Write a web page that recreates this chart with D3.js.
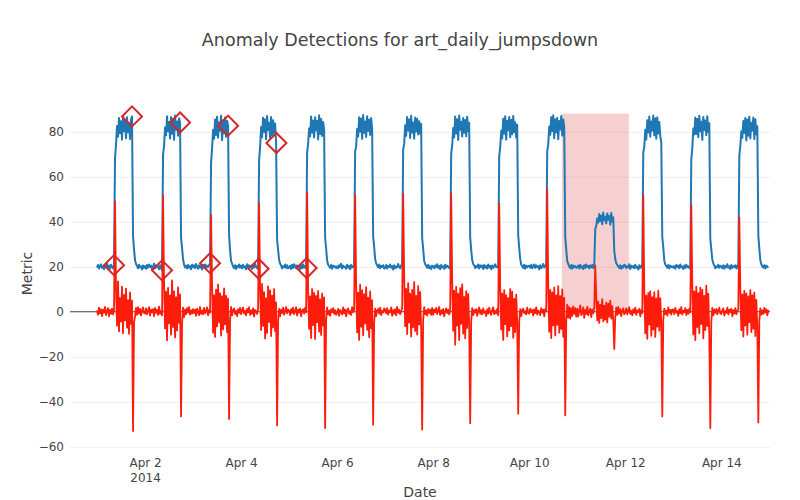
<!DOCTYPE html>
<html>
<head>
<meta charset="utf-8">
<script src="https://cdn.jsdelivr.net/npm/d3@7"></script>
<style>
  body { margin: 0; background: #fff; }
</style>
</head>
<body>
<svg id="chart" width="800" height="500"></svg>
<script>
// ---- data (30 minute samples) ----
const dayStarts = ["2014-04-01", "2014-04-02", "2014-04-03", "2014-04-04", "2014-04-05", "2014-04-06", "2014-04-07",
                   "2014-04-08", "2014-04-09", "2014-04-10", "2014-04-11", "2014-04-12", "2014-04-13", "2014-04-14"];
const stepMinutes = 30;

const metricApr01 = [19.6, 20.8, 19.2, 20.4, 21.1, 19.5, 20.2, 18.9, 20.7, 19.8, 21.3, 19.4, 20.5, 19.1, 20.9, 20.0, 19.3, 20.7, 68.5, 74.2, 82.6, 77.8, 86.1, 79.4, 84.7, 76.5, 87.0, 80.3, 85.2, 77.1, 86.4, 79.8, 83.9, 76.8, 85.6, 86.8, 33.5, 27.8, 22.9, 21.2, 20.4, 19.3, 20.9, 19.7, 20.2, 18.8, 20.6, 19.5];
const metricApr02 = [20.3, 19.1, 20.8, 19.6, 21.0, 19.9, 20.5, 18.7, 20.1, 21.4, 19.3, 20.6, 19.8, 20.2, 18.9, 20.7, 19.5, 18.4, 69.8, 73.6, 81.9, 78.4, 86.9, 80.2, 84.3, 77.0, 86.5, 79.1, 85.8, 76.4, 87.2, 81.0, 84.6, 78.2, 86.0, 84.1, 32.8, 28.4, 23.3, 21.0, 19.7, 20.5, 19.2, 20.8, 19.6, 20.3, 18.9, 20.9];
const metricApr03 = [19.8, 20.6, 19.4, 21.2, 20.0, 19.1, 20.7, 19.6, 20.3, 18.8, 20.9, 19.7, 21.0, 19.4, 20.5, 19.9, 20.8, 21.6, 66.3, 72.5, 80.8, 76.9, 85.4, 78.6, 86.7, 77.4, 84.2, 80.5, 87.1, 76.2, 85.0, 79.3, 86.3, 77.8, 84.9, 82.7, 34.1, 27.2, 22.6, 21.4, 20.1, 19.4, 20.7, 19.0, 20.4, 19.8, 21.0, 19.6];
const metricApr04 = [20.5, 19.3, 20.9, 19.7, 20.2, 18.9, 21.1, 19.5, 20.6, 19.9, 20.3, 19.0, 20.8, 19.6, 21.2, 20.1, 19.4, 19.1, 67.4, 73.0, 82.1, 77.6, 86.2, 79.9, 85.5, 76.7, 87.0, 80.8, 84.0, 77.3, 86.6, 78.5, 85.1, 79.4, 83.7, 75.0, 31.9, 27.5, 23.1, 21.3, 20.6, 19.2, 20.3, 19.8, 21.0, 19.5, 20.7, 19.3];
const metricApr05 = [19.7, 20.4, 19.0, 20.9, 19.5, 21.1, 20.2, 19.3, 20.6, 19.8, 20.0, 18.9, 20.7, 19.4, 21.0, 19.6, 20.3, 19.4, 70.6, 74.8, 81.5, 78.0, 86.8, 79.6, 85.0, 77.5, 86.4, 80.7, 84.8, 76.6, 87.3, 79.0, 85.7, 78.1, 84.3, 80.9, 33.0, 28.1, 22.8, 20.9, 20.3, 19.5, 20.8, 19.1, 20.5, 19.9, 20.2, 19.4];
const metricApr06 = [20.2, 19.4, 20.7, 19.9, 21.3, 19.2, 20.5, 19.8, 20.0, 19.1, 20.9, 19.6, 20.4, 18.9, 20.8, 19.7, 20.3, 19.8, 71.2, 73.5, 81.2, 77.9, 86.4, 80.0, 85.9, 76.8, 87.4, 79.5, 84.6, 77.7, 86.9, 80.4, 85.3, 78.6, 86.1, 81.3, 33.6, 28.9, 23.4, 21.5, 20.6, 19.7, 21.0, 19.3, 20.4, 19.9, 20.7, 19.2];
const metricApr07 = [19.5, 20.8, 19.2, 20.4, 19.9, 21.0, 19.6, 20.3, 18.8, 20.7, 19.4, 20.1, 19.7, 21.2, 20.0, 19.3, 20.6, 20.2, 72.0, 74.6, 82.9, 78.2, 86.6, 80.6, 85.4, 77.2, 87.1, 79.7, 84.1, 76.9, 86.3, 80.1, 85.8, 78.8, 84.7, 79.3, 83.5, 32.7, 27.9, 22.7, 21.1, 20.4, 19.6, 20.9, 19.4, 20.2, 19.0, 20.5];
const metricApr08 = [20.1, 19.3, 20.6, 19.8, 21.1, 19.5, 20.4, 18.9, 20.8, 19.7, 20.2, 19.1, 20.9, 19.6, 20.5, 20.0, 19.4, 19.9, 70.3, 73.8, 81.7, 77.5, 86.8, 79.2, 85.6, 76.3, 87.2, 80.9, 84.4, 77.9, 86.1, 79.6, 85.2, 78.0, 86.7, 80.2, 84.0, 33.2, 27.4, 23.0, 21.2, 20.7, 19.4, 20.3, 19.8, 21.0, 19.2, 20.6];
const metricApr09 = [19.9, 20.5, 19.0, 20.8, 19.6, 20.3, 19.2, 21.0, 19.7, 20.4, 18.9, 20.6, 19.5, 20.2, 21.1, 19.8, 20.1, 19.6, 69.1, 72.9, 80.4, 77.0, 85.8, 79.1, 86.9, 76.5, 84.9, 80.7, 86.5, 77.6, 85.3, 78.9, 87.0, 79.8, 84.2, 77.4, 83.1, 34.0, 28.3, 23.5, 21.0, 20.2, 19.5, 20.9, 19.1, 20.5, 19.8, 20.3];
const metricApr10 = [20.4, 19.6, 20.9, 19.3, 20.1, 21.0, 19.5, 20.6, 19.8, 20.3, 18.9, 20.7, 19.4, 20.0, 21.2, 19.7, 20.5, 20.1, 71.5, 74.1, 82.3, 78.7, 86.5, 80.3, 87.3, 77.1, 85.5, 79.8, 86.2, 76.7, 84.8, 81.0, 87.0, 78.3, 85.4, 82.0, 33.4, 27.6, 22.5, 21.3, 20.0, 19.4, 20.8, 19.1, 20.6, 19.8, 20.3, 19.5];
const metricApr11 = [19.8, 20.5, 19.2, 20.9, 19.6, 20.2, 19.0, 20.7, 19.5, 21.0, 19.9, 20.4, 19.3, 20.6, 19.7, 20.8, 19.4, 20.3, 36.8, 38.2, 41.5, 39.6, 43.4, 40.3, 42.8, 38.9, 44.1, 40.7, 42.2, 39.3, 43.7, 41.0, 42.5, 38.7, 43.9, 40.1, 42.0, 27.0, 23.4, 21.6, 20.8, 20.2, 19.5, 20.6, 19.1, 20.4, 19.7, 20.9];
const metricApr12 = [20.6, 19.4, 20.2, 19.7, 21.1, 19.0, 20.5, 19.8, 20.3, 19.3, 20.9, 19.6, 20.0, 18.8, 20.7, 19.5, 20.4, 19.7, 70.8, 73.2, 80.9, 76.6, 85.1, 79.7, 86.8, 77.8, 84.6, 80.5, 87.2, 78.4, 85.9, 76.9, 86.4, 79.2, 84.3, 78.1, 75.2, 33.1, 28.6, 22.8, 21.0, 20.3, 19.6, 20.8, 19.2, 20.5, 19.9, 20.1];
const metricApr13 = [19.6, 20.3, 19.1, 20.8, 19.9, 20.5, 19.3, 21.0, 19.7, 20.1, 19.0, 20.6, 19.5, 20.9, 19.8, 20.2, 19.4, 20.4, 67.9, 72.6, 81.4, 78.8, 86.3, 79.0, 85.7, 77.6, 87.1, 80.2, 84.5, 76.4, 86.6, 80.8, 85.0, 78.5, 86.9, 79.9, 83.8, 32.4, 27.7, 23.2, 21.4, 20.6, 19.3, 20.2, 19.8, 20.9, 19.5, 20.4];
const metricApr14 = [20.0, 19.4, 20.7, 19.1, 20.4, 19.8, 21.1, 19.6, 20.2, 19.0, 20.8, 19.5, 20.3, 19.9, 20.6, 19.2, 20.5, 19.5, 69.4, 73.7, 80.2, 77.3, 84.8, 79.5, 86.1, 76.1, 85.4, 78.2, 86.7, 77.0, 84.0, 80.6, 86.3, 76.8, 85.6, 78.9, 82.4, 33.8, 28.0, 22.9, 21.1, 20.1, 19.6, 20.7, 19.3, 20.5, 19.8, 20.2];

const diffApr01 = [0.6, -1.3, 1.8, -0.7, 1.1, -1.9, 0.9, -0.4, 2.2, -1.5, 0.3, 1.6, -2.1, 0.8, -0.9, 1.4, -1.2, 0.7, 49.0, 9.4, -6.2, 13.5, -8.7, 6.1, -4.3, 11.2, -9.6, 7.5, -3.8, 10.3, -7.1, 5.2, -9.8, 8.6, -5.4, 4.9, -53.0, -4.6, -2.1, 1.7, -1.4, 2.0, -0.8, 1.3, -1.7, 0.5, 1.9, -0.6];
const diffApr02 = [-0.8, 1.5, -1.1, 0.4, 2.0, -1.7, 0.9, -0.3, 1.2, -2.0, 1.7, -0.5, 0.8, -1.4, 2.3, -0.9, 0.2, -1.6, 51.5, 12.8, -7.4, 8.9, -12.7, 10.6, -5.1, 7.3, -10.2, 13.9, -6.8, 9.1, -11.4, 6.5, -8.3, 10.8, -4.9, 7.7, -46.5, -5.3, 1.8, -2.4, 0.9, -1.1, 1.6, -0.4, 2.1, -1.3, 0.6, -0.8];
const diffApr03 = [1.2, -0.6, 0.9, -1.8, 1.4, -0.2, -1.5, 2.1, -0.9, 0.5, -1.2, 1.7, -0.7, 0.3, 1.9, -1.6, 0.8, -0.4, 43.0, 11.6, -9.3, 7.4, -11.2, 9.8, -6.5, 12.1, -4.7, 8.2, -10.6, 6.9, -7.8, 10.4, -5.6, 7.1, -9.1, 5.8, -47.7, -3.9, 2.2, -1.6, 0.7, 1.5, -1.0, 0.4, -1.9, 1.1, -0.5, 1.7];
const diffApr04 = [-1.1, 0.7, 1.9, -0.8, 0.4, -1.6, 1.3, -0.3, 2.0, -1.4, 0.6, -0.9, 1.5, -2.2, 0.8, 0.2, -1.0, 1.6, 48.0, 10.2, -8.1, 12.4, -6.3, 8.7, -11.9, 6.0, -9.4, 11.3, -4.5, 9.5, -10.8, 7.2, -6.9, 10.1, -8.6, 4.2, -50.5, -4.2, 1.3, -2.0, 0.9, -0.6, 1.8, -1.3, 0.3, 2.1, -0.7, 1.0];
const diffApr05 = [0.4, -1.5, 1.2, -0.6, 1.8, -1.1, 0.2, 2.0, -1.7, 0.9, -0.4, 1.4, -2.0, 0.6, 1.1, -0.8, 1.7, -0.3, 53.0, 9.9, -7.6, 6.8, -11.7, 10.1, -5.9, 8.4, -12.1, 7.0, -4.6, 9.3, -8.8, 5.5, -10.3, 8.0, -6.2, 6.4, -51.7, -3.4, 1.9, -1.2, 0.5, -1.8, 1.1, -0.2, 1.6, -0.9, 0.7, -1.4];
const diffApr06 = [-0.5, 1.3, -1.8, 0.8, 0.1, -1.2, 1.9, -0.7, 1.0, -2.1, 0.6, 1.5, -0.9, 0.3, -1.4, 2.0, -0.2, 0.9, 52.0, 11.8, -9.2, 8.5, -12.5, 12.0, -6.7, 9.6, -10.4, 7.8, -5.2, 10.9, -8.0, 6.3, -11.3, 9.0, -7.3, 5.1, -50.2, -4.8, 1.4, -1.9, 0.6, 1.2, -0.8, 1.8, -1.5, 0.4, -0.3, 1.5];
const diffApr07 = [1.0, -0.7, 1.6, -1.3, 0.5, -0.2, 1.9, -1.8, 0.7, -0.9, 1.2, -1.6, 2.2, -0.4, 0.8, -1.1, 0.3, 1.4, 52.4, 15.7, -6.4, 10.2, -9.9, 12.7, -4.8, 8.1, -11.0, 9.7, -6.9, 13.2, -8.5, 7.0, -10.1, 11.4, -5.7, 8.8, -7.6, -52.4, -3.7, 2.0, -1.1, 0.6, -1.7, 1.3, -0.5, 0.9, -1.4, 1.7];
const diffApr08 = [-1.4, 0.9, -0.3, 1.7, -1.0, 0.4, 2.1, -1.5, 0.6, -0.8, 1.3, -2.0, 0.2, 1.5, -0.6, 0.9, -1.2, 0.5, 52.6, 13.9, -8.4, 9.4, -14.7, 11.1, -6.1, 8.0, -12.6, 10.5, -5.3, 12.2, -9.7, 6.6, -11.8, 9.2, -7.2, 7.9, -6.0, -49.5, -4.4, 1.6, -1.5, 0.8, -0.4, 1.2, -1.8, 0.5, 1.9, -0.9];
const diffApr09 = [0.7, -1.2, 1.5, -0.5, 0.2, -1.9, 1.1, -0.8, 1.8, -0.3, -1.4, 0.9, 2.0, -1.1, 0.4, -0.7, 1.3, -1.6, 48.0, 10.5, -7.9, 8.2, -12.5, 9.6, -5.5, 7.4, -10.9, 6.1, -8.3, 10.1, -6.4, 8.9, -11.6, 5.7, -9.0, 7.6, -4.8, -45.3, -4.1, 1.2, -1.9, 0.7, 1.4, -0.6, 0.3, -1.2, 1.8, -0.4];
const diffApr10 = [-0.9, 1.4, -0.2, 0.8, -1.7, 1.1, -0.6, 1.9, -1.3, 0.5, 0.0, -1.5, 1.6, -0.4, 0.9, -2.1, 1.2, 0.3, 54.6, 12.0, -8.9, 9.7, -11.7, 8.6, -6.0, 10.8, -10.5, 7.3, -5.8, 11.4, -9.3, 6.9, -7.7, 9.9, -11.1, 6.2, -46.0, -4.0, 3.2, -2.6, 2.1, -3.1, 1.5, -1.8, 2.4, -0.9, 1.6, -2.2];
const diffApr11 = [1.3, -2.2, 0.6, 2.8, -1.5, -0.4, 1.9, -2.7, 0.8, -1.0, 2.3, -1.6, 0.2, 1.4, -2.4, 0.9, -0.7, 1.7, 20.6, 6.8, -3.9, 4.5, -5.0, 3.2, -2.8, 5.6, -4.3, 2.7, -3.5, 4.1, -4.8, 3.6, -2.2, 4.9, -3.1, 2.5, -3.7, -16.5, -2.6, 1.8, -1.4, 2.2, -0.8, 1.1, -1.9, 0.6, 1.5, -1.2];
const diffApr12 = [-0.3, 1.5, -1.2, 0.7, 2.0, -0.9, 0.4, -1.6, 1.1, -0.5, 1.8, -1.4, 0.6, -0.1, 1.3, -2.0, 0.8, -0.6, 51.7, 9.8, -9.6, 7.2, -12.0, 8.4, -5.6, 9.1, -10.7, 6.5, -7.9, 8.7, -11.2, 5.9, -6.6, 9.4, -8.4, 6.0, -4.9, -46.5, -3.6, 1.4, -1.0, 0.5, -1.7, 1.9, -0.4, 0.8, -1.3, 1.0];
const diffApr13 = [0.9, -1.0, 1.7, -0.4, 0.3, -1.8, 1.2, -0.7, 2.1, -1.3, 0.5, -0.2, 1.6, -1.5, 0.8, -0.9, 1.4, -0.3, 47.5, 12.0, -10.1, 9.0, -12.6, 11.2, -6.8, 8.3, -9.5, 10.7, -5.4, 9.8, -11.8, 7.1, -8.1, 11.6, -6.3, 8.0, -10.4, -51.7, -4.5, 1.7, -1.6, 0.9, -0.5, 1.3, -1.1, 0.4, 1.8, -0.8];
const diffApr14 = [-1.0, 0.6, 1.5, -1.7, 0.3, -0.5, 1.8, -1.2, 0.9, -0.2, 1.3, -2.0, 0.7, -0.8, 1.6, -1.1, 0.4, 1.0, 42.0, 10.0, -8.2, 7.7, -11.0, 9.3, -6.1, 8.1, -10.2, 6.8, -4.7, 9.6, -9.0, 7.4, -7.5, 8.5, -10.8, 5.3, -6.9, -49.2, -3.8, 1.5, -1.3, 0.6, -0.9, 1.7, -0.4, 1.1, -1.6, 0.8];

const metricDays = [metricApr01, metricApr02, metricApr03, metricApr04, metricApr05, metricApr06, metricApr07,
                    metricApr08, metricApr09, metricApr10, metricApr11, metricApr12, metricApr13, metricApr14];
const diffDays = [diffApr01, diffApr02, diffApr03, diffApr04, diffApr05, diffApr06, diffApr07,
                  diffApr08, diffApr09, diffApr10, diffApr11, diffApr12, diffApr13, diffApr14];

// detected anomalies
const anomalyTimes = ["2014-04-01 08:30", "2014-04-01 17:30", "2014-04-02 08:30", "2014-04-02 17:30", "2014-04-03 08:30",
                      "2014-04-03 17:30", "2014-04-04 08:45", "2014-04-04 17:40", "2014-04-05 08:45"];
const anomalyValues = [20.7, 86.8, 18.4, 84.1, 21.6, 82.7, 19.1, 75.0, 19.4];

// labelled anomaly window
const windowStart = "2014-04-10 16:20";
const windowEnd = "2014-04-12 01:50";
const windowLow = 1;
const windowHigh = 88;

const xStart = "2014-03-31 10:30";
const xEnd = "2014-04-15 00:20";
const xTicks = ["2014-04-02", "2014-04-04", "2014-04-06", "2014-04-08", "2014-04-10", "2014-04-12", "2014-04-14"];
const xTickLabels = ["Apr 2", "Apr 4", "Apr 6", "Apr 8", "Apr 10", "Apr 12", "Apr 14"];
const xTickYear = "2014";
const yDomain = [-61, 95];
const yTicks = [-60, -40, -20, 0, 20, 40, 60, 80];

const titleText = "Anomaly Detections for art_daily_jumpsdown";
const xTitle = "Date";
const yTitle = "Metric";

// ---- chart ----
const width = 800;
const height = 500;
const margin = {top: 98, right: 30, bottom: 51, left: 70};
const innerW = width - margin.left - margin.right;
const innerH = height - margin.top - margin.bottom;

const fontFamily = '"DejaVu Sans", verdana, arial, sans-serif';
const textColor = "#444";
const gridColor = "#eee";
const zeroLineColor = "#444";
const metricColor = "#1f77b4";
const diffColor = "#ff1c0a";
const anomalyColor = "#d62728";
const windowColor = "#d62728";
const windowOpacity = 0.22;

const parseTime = d3.timeParse("%Y-%m-%d %H:%M");
const parseDay = d3.timeParse("%Y-%m-%d");

metricDays.concat(diffDays).forEach((arr, i) => {
  if (arr.length !== 24 * 60 / stepMinutes) throw new Error("bad day length at " + i + ": " + arr.length);
});

const toPoints = (days) => dayStarts.flatMap((day, d) =>
  days[d].map((v, i) => ({t: d3.timeMinute.offset(parseDay(day), i * stepMinutes), v: v})));

const metricPoints = toPoints(metricDays);
const diffPoints = toPoints(diffDays);
const anomalies = anomalyTimes.map((t, i) => ({t: parseTime(t), v: anomalyValues[i]}));

const svg = d3.select("#chart");
svg.append("rect").attr("width", width).attr("height", height).attr("fill", "#fff");

const g = svg.append("g")
  .attr("transform", `translate(${margin.left},${margin.top})`);

g.append("clipPath").attr("id", "plot-clip")
  .append("rect").attr("width", innerW).attr("height", innerH);

const xScale = d3.scaleTime()
  .domain([parseTime(xStart), parseTime(xEnd)])
  .range([0, innerW]);

const yScale = d3.scaleLinear()
  .domain(yDomain)
  .range([innerH, 0]);

// y grid + labels
const yAxis = g.append("g")
  .call(d3.axisLeft(yScale).tickValues(yTicks).tickSize(-innerW).tickPadding(6));
yAxis.select(".domain").remove();
yAxis.attr("font-family", fontFamily);
yAxis.selectAll(".tick line")
  .attr("stroke", d => d === 0 ? "none" : gridColor)
  .attr("stroke-width", 1);
yAxis.selectAll(".tick text")
  .attr("font-size", 12)
  .attr("fill", textColor);

// shaded anomaly window
g.append("rect")
  .attr("x", xScale(parseTime(windowStart)))
  .attr("width", xScale(parseTime(windowEnd)) - xScale(parseTime(windowStart)))
  .attr("y", yScale(windowHigh))
  .attr("height", yScale(windowLow) - yScale(windowHigh))
  .attr("fill", windowColor)
  .attr("fill-opacity", windowOpacity);

// zero line
g.append("line")
  .attr("x1", 0).attr("x2", innerW)
  .attr("y1", yScale(0)).attr("y2", yScale(0))
  .attr("stroke", zeroLineColor)
  .attr("stroke-width", 1);

// x labels
const xAxis = g.append("g")
  .attr("transform", `translate(0,${innerH})`)
  .call(d3.axisBottom(xScale)
    .tickValues(xTicks.map(parseDay))
    .tickFormat((d, i) => xTickLabels[i])
    .tickSize(0)
    .tickPadding(9));
xAxis.select(".domain").remove();
xAxis.attr("font-family", fontFamily);
xAxis.selectAll(".tick text")
  .attr("font-size", 12)
  .attr("fill", textColor);
xAxis.select(".tick text")
  .append("tspan")
  .attr("x", 0)
  .attr("dy", "1.3em")
  .text(xTickYear);

const line = d3.line()
  .x(d => xScale(d.t))
  .y(d => yScale(d.v));

const plot = g.append("g").attr("clip-path", "url(#plot-clip)");

plot.append("path")
  .datum(metricPoints)
  .attr("fill", "none")
  .attr("stroke", metricColor)
  .attr("stroke-width", 2)
  .attr("stroke-linejoin", "round")
  .attr("d", line);

plot.append("path")
  .datum(diffPoints)
  .attr("fill", "none")
  .attr("stroke", diffColor)
  .attr("stroke-width", 1.8)
  .attr("stroke-linejoin", "round")
  .attr("d", line);

// open diamonds for detections
g.selectAll("path.anomaly")
  .data(anomalies)
  .join("path")
  .attr("class", "anomaly")
  .attr("d", d3.symbol(d3.symbolSquare, 200))
  .attr("transform", d => `translate(${xScale(d.t)},${yScale(d.v)}) rotate(45)`)
  .attr("fill", "none")
  .attr("stroke", anomalyColor)
  .attr("stroke-width", 2);

// titles
svg.append("text")
  .attr("x", width / 2)
  .attr("y", 46)
  .attr("text-anchor", "middle")
  .attr("font-family", fontFamily)
  .attr("font-size", 17.5)
  .attr("fill", textColor)
  .text(titleText);

svg.append("text")
  .attr("x", margin.left + innerW / 2)
  .attr("y", 496.5)
  .attr("text-anchor", "middle")
  .attr("font-family", fontFamily)
  .attr("font-size", 14)
  .attr("fill", textColor)
  .text(xTitle);

svg.append("text")
  .attr("transform", `translate(32,${margin.top + innerH / 2}) rotate(-90)`)
  .attr("text-anchor", "middle")
  .attr("font-family", fontFamily)
  .attr("font-size", 14)
  .attr("fill", textColor)
  .text(yTitle);
</script>
</body>
</html>
